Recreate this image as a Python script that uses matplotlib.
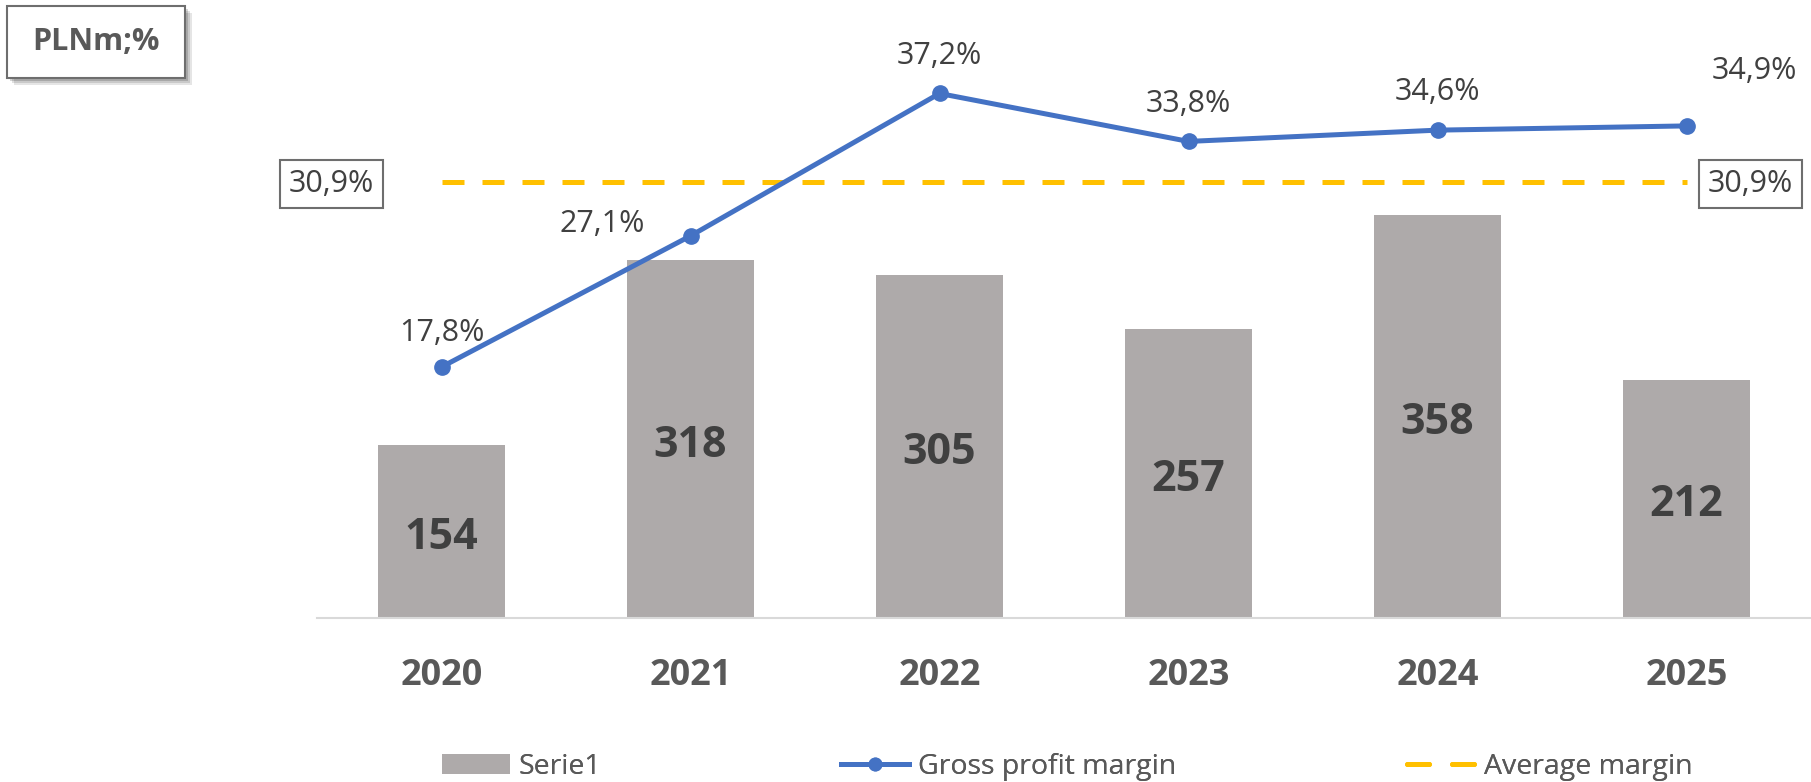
import matplotlib
matplotlib.use("Agg")
import matplotlib.pyplot as plt
from matplotlib.patches import Rectangle, Patch
from matplotlib.lines import Line2D

years = ["2020", "2021", "2022", "2023", "2024", "2025"]
gross_profit = [154, 318, 305, 257, 358, 212]
margin = [17.8, 27.1, 37.2, 33.8, 34.6, 34.9]
avg_margin = 30.9
unit_label = "PLNm;%"
series_names = ["Serie1", "Gross profit margin", "Average margin"]

def fmt_pct(v):
    return f"{v:.1f}%".replace(".", ",")

W, H = 1811, 782
fig = plt.figure(figsize=(W / 100, H / 100), dpi=100)
plt.rcParams['font.family'] = ['Open Sans', 'DejaVu Sans']

BAR_C = "#AEAAAA"
BLUE = "#4472C4"
GOLD = "#FFC000"
DARK = "#404040"
MID = "#595959"

ax_left, ax_right, ax_bottom, ax_top = 317, 1811, 618, 40
ax = fig.add_axes([ax_left / W, (H - ax_bottom) / H,
                   (ax_right - ax_left) / W, (ax_bottom - ax_top) / H])
x = list(range(len(years)))
bars = ax.bar(x, gross_profit, width=0.51, color=BAR_C, zorder=2)
ax.set_xlim(-0.5, len(years) - 0.5)
ax.set_ylim(0, (ax_bottom - ax_top) / 1.125)
for xi, v in zip(x, gross_profit):
    ax.annotate(str(v), (xi, v / 2), xytext=(0, -6), textcoords="offset pixels",
                ha="center", va="center", fontsize=31,
                fontweight="bold", color=DARK, zorder=3)

for s in ["top", "right", "left"]:
    ax.spines[s].set_visible(False)
ax.spines["bottom"].set_color("#D9D9D9")
ax.spines["bottom"].set_linewidth(1.5)
ax.set_yticks([])
ax.set_xticks(x)
ax.set_xticklabels(years, fontsize=26, fontweight="bold", color=MID)
ax.tick_params(axis="x", length=0, pad=29)

ax2 = ax.twinx()
ax2.set_ylim(0, (ax_bottom - ax_top) / 14.1)
ax2.set_xlim(-0.5, len(years) - 0.5)
ax2.axis("off")
ax2.plot(x, [avg_margin] * len(x), color=GOLD, lw=3.6, dashes=(4.4, 3.6),
         solid_capstyle="butt", zorder=3)
ax2.plot(x, margin, color=BLUE, lw=3.6, marker="o", markersize=11, zorder=4)

offsets = [(0, 34), (-88, 12), (0, 37), (0, 37), (0, 38), (68, 55)]
for xi, v, (dx, dy) in zip(x, margin, offsets):
    ax2.annotate(fmt_pct(v), (xi, v), xytext=(dx, dy), textcoords="offset pixels",
                 ha="center", va="center", fontsize=22, color=DARK, zorder=5)

box_style = dict(boxstyle="square,pad=0.3", fc="white", ec="#6E6E6E", lw=1.5)
ax2.annotate(fmt_pct(avg_margin), (x[0], avg_margin), xytext=(-110, -2),
             textcoords="offset pixels", ha="center", va="center", fontsize=22,
             color=DARK, bbox=box_style, annotation_clip=False)
ax2.annotate(fmt_pct(avg_margin), (x[-1], avg_margin), xytext=(64, -2),
             textcoords="offset pixels", ha="center", va="center", fontsize=22,
             color=DARK, bbox=box_style, annotation_clip=False)

# unit box with shadow
bx0, by0, bx1, by1 = 7, 6, 185, 78
for i, a in enumerate([0.10, 0.12, 0.16]):
    off = 7 - 2 * i
    fig.patches.append(Rectangle(((bx0 + off) / W, (H - by1 - off) / H),
                                 (bx1 - bx0) / W, (by1 - by0) / H,
                                 transform=fig.transFigure, fc="black", ec="none",
                                 alpha=a, zorder=1))
fig.patches.append(Rectangle((bx0 / W, (H - by1) / H), (bx1 - bx0) / W,
                             (by1 - by0) / H, transform=fig.transFigure,
                             fc="white", ec="#6E6E6E", lw=1.5, zorder=2))
fig.text((bx0 + bx1) / 2 / W, (H - (by0 + by1) / 2) / H, unit_label,
         ha="center", va="center", fontsize=22, fontweight="bold", color=MID,
         zorder=3)

handles = [Patch(facecolor=BAR_C, edgecolor="none"),
           Line2D([0], [0], color=BLUE, lw=3.6, marker="o", markersize=9),
           Line2D([0], [0], color=GOLD, lw=3.6, dashes=(4.4, 4.6),
                  dash_capstyle="round")]
leg_x = [442, 841, 1407]
for hx, h, name in zip(leg_x, handles, series_names):
    leg = fig.legend([h], [name], loc="center left",
                     bbox_to_anchor=(hx / W, (H - 767) / H), frameon=False,
                     fontsize=20.5, handlelength=2.4, handletextpad=0.3,
                     borderpad=0, borderaxespad=0)
    for t in leg.get_texts():
        t.set_color(MID)
    fig.add_artist(leg)

fig.savefig("out.png", dpi=100)
